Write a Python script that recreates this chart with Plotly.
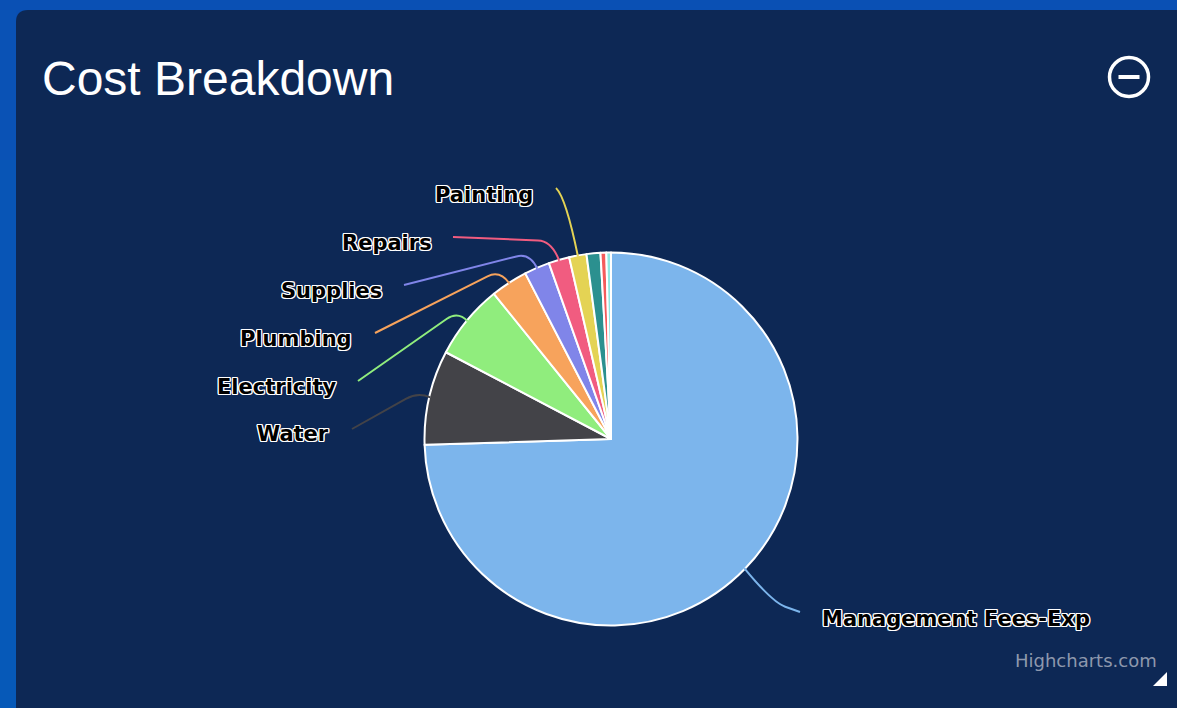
import math
import plotly.graph_objects as go

W, H = 1177, 708

categories = ["Management Fees-Exp", "Water", "Electricity", "Plumbing", "Supplies",
              "Repairs", "Painting", "Landscaping", "Cleaning", "Other"]
values = [74.5, 8.2, 6.5, 3.2, 2.2, 1.8, 1.5, 1.2, 0.5, 0.4]
colors = ["#7cb5ec", "#434348", "#90ed7d", "#f7a35c", "#8085e9",
          "#f15c80", "#e4d354", "#2b908f", "#f45b5b", "#91e8e1"]

labelled = ["Management Fees-Exp", "Water", "Electricity", "Plumbing", "Supplies", "Repairs", "Painting"]
label_x = [820, 331, 339, 354, 384, 434, 535]
label_y = [619, 434, 387, 339, 291, 243, 195]
leader_start = [(800, 612), (352, 429), (358, 381), (375, 333), (404, 285), (453, 237), (556, 188)]
leader_elbow = [(772, 602), (418, 392), (458, 311), (500, 270), (530, 253), (552, 241), (566, 198)]

CX, CY, R = 611, 439, 186.5


def px(x):
    return x / W


def py(y):
    return 1 - y / H


shapes = []

# left strip of the page brightens gently towards the bottom
for top, bottom, tone in [(10, 160, "#0a52b5"), (160, 330, "#0855b6"), (330, 708, "#0659b8")]:
    shapes.append(dict(type="rect", xref="paper", yref="paper", layer="below",
                       x0=0, x1=px(16), y0=py(bottom), y1=py(top),
                       fillcolor=tone, line=dict(width=0)))

# panel with rounded top-left corner (paper coordinates)
shapes.append(dict(
    type="path", xref="paper", yref="paper", layer="below",
    path=f"M {px(16)} {py(720)} L {px(16)} {py(22)} Q {px(16)} {py(10)} {px(28)} {py(10)} "
         f"L {px(1200)} {py(10)} L {px(1200)} {py(720)} Z",
    fillcolor="#0d2855", line=dict(width=0)))

# leader lines, ending on each slice's mid-angle
total = sum(values)
cum = 0
mid = {}
for c, v in zip(categories, values):
    mid[c] = (cum + v / 2) / total * 2 * math.pi
    cum += v

for i, name in enumerate(labelled):
    a = mid[name]
    ex, ey = CX + (R - 1) * math.sin(a), CY - (R - 1) * math.cos(a)
    sx, sy = leader_start[i]
    bx, by = leader_elbow[i]
    d = math.hypot(bx - sx, by - sy)
    t = max(0.0, 1 - 14 / d)
    qx, qy = sx + (bx - sx) * t, sy + (by - sy) * t
    shapes.append(dict(
        type="path", xref="paper", yref="paper", layer="above",
        path=f"M {px(sx)} {py(sy)} L {px(qx)} {py(qy)} Q {px(bx)} {py(by)} {px(ex)} {py(ey)}",
        line=dict(color=colors[categories.index(name)], width=2)))

# collapse icon
shapes.append(dict(type="circle", xref="paper", yref="paper",
                   x0=px(1109.5), x1=px(1148.5), y0=py(96.5), y1=py(57.5),
                   line=dict(color="#ffffff", width=3.5)))
shapes.append(dict(type="rect", xref="paper", yref="paper",
                   x0=px(1118.5), x1=px(1139.5), y0=py(79), y1=py(75),
                   fillcolor="#ffffff", line=dict(width=0)))
# resize handle
shapes.append(dict(type="path", xref="paper", yref="paper",
                   path=f"M {px(1153)} {py(686)} L {px(1167)} {py(686)} L {px(1167)} {py(672)} Z",
                   fillcolor="#ffffff", line=dict(width=0)))

halo = ", ".join(f"{x}px {y}px 0 #ffffff" for x, y in
                 [(-1.2, 0), (1.2, 0), (0, -1.2), (0, 1.2), (-1, -1), (1, -1), (-1, 1), (1, 1)])

annotations = [
    dict(text="Cost Breakdown", x=px(39.5), y=py(78), xref="paper", yref="paper",
         xanchor="left", yanchor="middle", showarrow=False,
         font=dict(family="Liberation Sans", size=48, color="#ffffff")),
    dict(text="Highcharts.com", x=px(1159), y=py(660), xref="paper", yref="paper",
         xanchor="right", yanchor="middle", showarrow=False,
         font=dict(family="DejaVu Sans", size=18, color="#8d98ad")),
]
for i, name in enumerate(labelled):
    annotations.append(dict(
        text=f"<b>{name}</b>", x=px(label_x[i]), y=py(label_y[i]), xref="paper", yref="paper",
        xanchor="left" if i == 0 else "right", yanchor="middle", showarrow=False,
        font=dict(family="DejaVu Sans", size=21, color="#000000", shadow=halo)))

fig = go.Figure(go.Pie(
    labels=categories, values=values, sort=False, direction="clockwise", rotation=0,
    marker=dict(colors=colors, line=dict(color="#ffffff", width=2)),
    textinfo="none", showlegend=False,
    domain=dict(x=[px(CX - R), px(CX + R)], y=[py(CY + R), py(CY - R)]),
))
fig.update_layout(
    width=W, height=H, autosize=False, margin=dict(l=0, r=0, t=0, b=0),
    paper_bgcolor="#0a50b4", plot_bgcolor="#0d2855",
    shapes=shapes, annotations=annotations,
)
fig.write_html("out.html", config=dict(displayModeBar=False),
               post_script="document.body.style.margin='0';document.body.style.overflow='hidden';")
